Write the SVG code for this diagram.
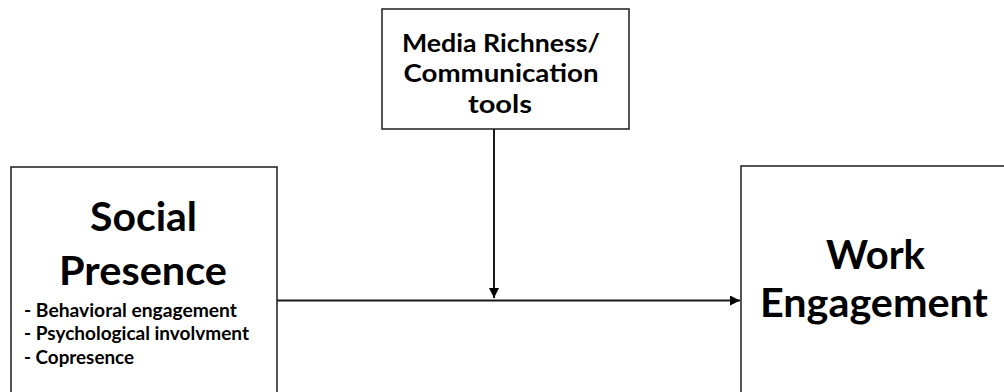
<svg xmlns="http://www.w3.org/2000/svg" width="1004" height="392" viewBox="0 0 1004 392">
<style>
.box{fill:#fff;stroke:#2b2b2b;stroke-width:1.6}
.t{font-family:Lato,"Open Sans",sans-serif;font-weight:bold;fill:#000}
.big{font-size:40px;text-anchor:middle}
.mid{font-size:25px;text-anchor:middle}
.sm{font-size:19px}
.ln{stroke:#1a1a1a;stroke-width:2;fill:none}
</style>
<defs>
<marker id="ah" viewBox="0 0 10 10" refX="10" refY="5" markerWidth="10" markerHeight="10" markerUnits="userSpaceOnUse" orient="auto">
<path d="M0,0 L10,5 L0,10 z" fill="#000"/>
</marker>
</defs>
<rect width="1004" height="392" fill="#fff"/>
<g id="media">
<rect class="box" x="382" y="9" width="247" height="120"/>
<text class="t mid" x="501" y="52" textLength="198" lengthAdjust="spacingAndGlyphs">Media Richness/</text>
<text class="t mid" x="501" y="82" textLength="195" lengthAdjust="spacingAndGlyphs">Communication</text>
<text class="t mid" x="500" y="113" textLength="64" lengthAdjust="spacingAndGlyphs">tools</text>
</g>
<g id="social">
<rect class="box" x="11" y="167" width="266" height="240"/>
<text class="t big" x="143.5" y="231" textLength="107" lengthAdjust="spacingAndGlyphs">Social</text>
<text class="t big" x="143" y="285" textLength="168" lengthAdjust="spacingAndGlyphs">Presence</text>
<text class="t sm" x="24" y="317" textLength="213" lengthAdjust="spacingAndGlyphs">- Behavioral engagement</text>
<text class="t sm" x="24" y="340" textLength="225" lengthAdjust="spacingAndGlyphs">- Psychological involvment</text>
<text class="t sm" x="24" y="364" textLength="110" lengthAdjust="spacingAndGlyphs">- Copresence</text>
</g>
<g id="work">
<rect class="box" x="741" y="166" width="280" height="240"/>
<text class="t big" x="875.5" y="269" textLength="99" lengthAdjust="spacingAndGlyphs">Work</text>
<text class="t big" x="874" y="317" textLength="228" lengthAdjust="spacingAndGlyphs">Engagement</text>
</g>
<g id="connectors">
<line class="ln" x1="277" y1="300.5" x2="740" y2="300.5" marker-end="url(#ah)"/>
<line class="ln" x1="494" y1="129" x2="494" y2="298" marker-end="url(#ah)"/>
</g>
</svg>
